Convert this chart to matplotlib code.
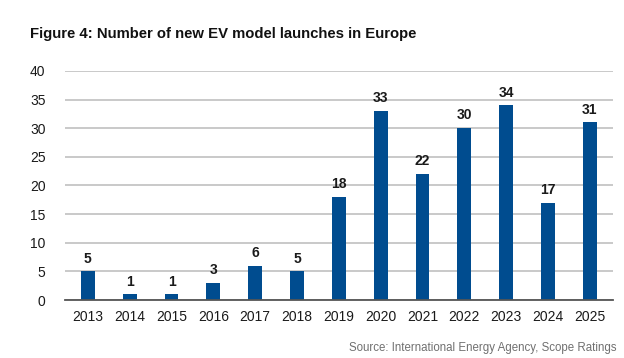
import matplotlib
matplotlib.use("Agg")
import matplotlib.pyplot as plt

years = ["2013", "2014", "2015", "2016", "2017", "2018", "2019", "2020", "2021", "2022", "2023", "2024", "2025"]
launches = [5, 1, 1, 3, 6, 5, 18, 33, 22, 30, 34, 17, 31]
yticks = [0, 5, 10, 15, 20, 25, 30, 35, 40]

plt.rcParams['font.family'] = ['Liberation Sans', 'DejaVu Sans']

fig = plt.figure(figsize=(6.24, 3.58), dpi=100)
ax = fig.add_axes([0.104, 0.162, 0.878, 0.640])

x = list(range(len(years)))
ax.bar(x, launches, width=0.33, color="#004C8F", zorder=3)
for xi, v in zip(x, launches):
    ax.text(xi, v + 1.0, str(v), ha="center", va="bottom", fontsize=10, fontweight="bold", color="#1a1a1a")

ax.set_xlim(-0.55, len(years) - 0.45)
ax.set_ylim(0, 40)
ax.set_yticks(yticks)
ax.set_xticks(x)
ax.set_xticklabels(years)
ax.grid(axis="y", color="#C0C0C0", linewidth=1.2, zorder=0)
for s in ["top", "right", "left"]:
    ax.spines[s].set_visible(False)
ax.spines["bottom"].set_color("#555555")
ax.spines["bottom"].set_linewidth(1.3)
ax.spines["bottom"].set_zorder(4)
ax.tick_params(axis="both", length=0, labelsize=10, colors="#1a1a1a")
ax.tick_params(axis="x", pad=7)
ax.tick_params(axis="y", pad=14)

fig.text(0.048, 0.905, "Figure 4: Number of new EV model launches in Europe", fontsize=10.7, fontweight="bold", ha="left", va="center", color="#111111")
fig.text(0.988, 0.028, "Source: International Energy Agency, Scope Ratings", fontsize=8.3, ha="right", va="center", color="#707070")

fig.savefig("out.png", dpi=100)
